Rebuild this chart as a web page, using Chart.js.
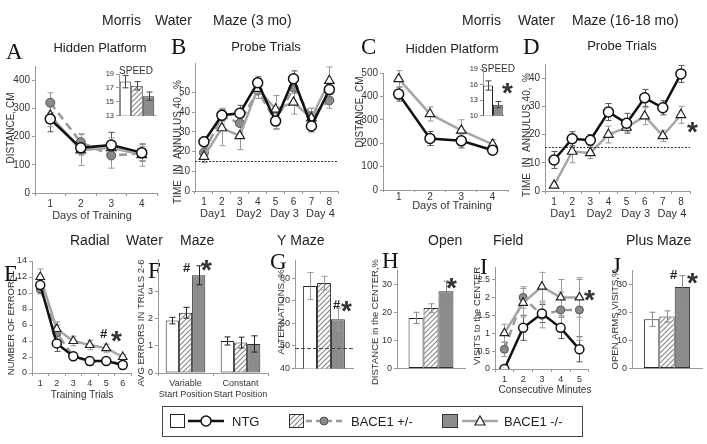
<!DOCTYPE html>
<html><head><meta charset="utf-8">
<script src="https://cdn.jsdelivr.net/npm/chart.js@4.4.1/dist/chart.umd.min.js"></script>
<style>
body{margin:0;background:#fff;width:707px;height:444px;position:relative;overflow:hidden;font-family:Arial,"Liberation Sans",sans-serif;}
canvas{position:absolute;}
</style></head><body>
<script>
// ---------------- DATA ----------------
const groupNames = ['NTG', 'BACE1 +/-', 'BACE1 -/-'];
// A: Morris water maze (3 mo), hidden platform distance (cm)
const aLabels = ['1', '2', '3', '4'];
const aNTG = [262, 160, 170, 143], aNTGErr = [45, 25, 45, 30];
const aHet = [320, 180, 133, 140], aHetErr = [35, 30, 45, 25];
const aKO  = [275, 152, 160, 135], aKOErr  = [40, 55, 35, 40];
const aSpeed = [17.9, 17.3, 15.8], aSpeedErr = [0.9, 0.6, 0.6];
// B: probe trials (3 mo), time in annulus 40 (%)
const bLabels = ['1', '2', '3', '4', '5', '6', '7', '8'];
const dayLabels = ['Day1', 'Day2', 'Day 3', 'Day 4'];
const bNTG = [25, 38.5, 39.5, 55, 35.5, 57, 33, 51.5], bNTGErr = [2.5, 3, 4, 3, 4, 4, 3, 4];
const bHet = [19.5, 38, 34.5, 51, 35.5, 52.5, 38, 46], bHetErr = [3, 4, 5, 4, 4, 3, 4, 4];
const bKO  = [17.5, 32, 28, 52, 41.5, 45, 37, 56], bKOErr = [3, 9, 7, 5, 7, 6, 5, 7];
const bChance = 15;
// C: Morris water maze (16-18 mo), hidden platform
const cNTG = [410, 220, 210, 170], cNTGErr = [30, 30, 30, 15];
const cKO  = [475, 325, 255, 195], cKOErr  = [35, 30, 45, 20];
const cSpeed = [15.8, 12.1], cSpeedErr = [0.9, 0.6];
// D: probe trials (16-18 mo)
const dNTG = [11, 18.5, 18, 28, 24, 33, 29.5, 41.5], dNTGErr = [3, 2.5, 2, 3, 3.5, 3, 2.5, 3];
const dKO  = [2, 14, 13.5, 20, 22.5, 26.5, 19.5, 27], dKOErr = [0, 4, 2, 3, 1.5, 3, 2, 3];
const dChance = 15.5;
// E: radial water maze errors
const eLabels = ['1', '2', '3', '4', '5', '6'];
const eNTG = [11, 3.7, 2.1, 1.5, 1.5, 1.0], eNTGErr = [1, 1, 0.4, 0.3, 0.3, 0.2];
const eHet = [10.5, 5, 2.1, 1.4, 1.5, 1.1], eHetErr = [0.6, 1, 0.5, 0.4, 0.3, 0.2];
const eKO  = [12, 5.5, 4, 3.5, 3.1, 2.0], eKOErr = [1, 0.9, 0.6, 0.6, 0.5, 0.3];
// F: avg errors in trials 2-6
const fLabels = [['Variable', 'Start Position'], ['Constant', 'Start Position']];
const fNTG = [1.93, 1.18], fNTGErr = [0.12, 0.15];
const fHet = [2.22, 1.12], fHetErr = [0.2, 0.2];
const fKO  = [3.6, 1.07],  fKOErr  = [0.35, 0.3];
// G: Y maze alternations (%)
const gVals = [76.5, 77.8, 61.8], gErr = [6, 3, 5];
const gChance = 49;
// H: open field distance in center (%)
const hVals = [18, 21.5, 27.5], hErr = [2, 1.5, 3.5];
// I: visits to the center
const iLabels = ['1', '2', '3', '4', '5'];
const iNTG = [0, 1.15, 1.55, 1.15, 0.55], iNTGErr = [0, 0.35, 0.25, 0.3, 0.35];
const iHet = [0.55, 2.0, 1.5, 1.65, 1.65], iHetErr = [0.2, 0.3, 0.35, 0.5, 0.85];
const iKO  = [1.0, 1.85, 2.3, 2.0, 2.0], iKOErr = [0.25, 0.4, 0.4, 0.5, 0.55];
// J: plus maze open arms visits (%)
const jVals = [17.5, 18.5, 29], jErr = [2.5, 2, 4];

// ---------------- STYLE / HELPERS ----------------
const FONT = 'Arial, "Liberation Sans", sans-serif';
const SERIF = '"Liberation Serif", "Times New Roman", serif';
const AX = '#999', TC = '#333';
const allCanvases = [];

function makeHatch() {
  const c = document.createElement('canvas'); c.width = 5; c.height = 5;
  const x = c.getContext('2d', { willReadFrequently: true });
  x.fillStyle = '#fff'; x.fillRect(0, 0, 5, 5);
  x.strokeStyle = '#8a8a8a'; x.lineWidth = 1.2;
  x.beginPath(); x.moveTo(-1, 6); x.lineTo(6, -1); x.moveTo(-1, 1); x.lineTo(1, -1); x.moveTo(4, 6); x.lineTo(6, 4); x.stroke();
  return x.createPattern(c, 'repeat');
}
const HATCH = makeHatch();

// text layer (bottom), drawn first
const TL = document.createElement('canvas'); TL.width = 707; TL.height = 444;
TL.style.left = '0px'; TL.style.top = '0px'; document.body.appendChild(TL);
const tx = TL.getContext('2d', { willReadFrequently: true });
allCanvases.push(TL);
function T(s, x, yc, size, o = {}) {
  tx.save();
  tx.font = (o.bold ? 'bold ' : '') + size + 'px ' + (o.serif ? SERIF : FONT);
  tx.fillStyle = o.color || '#222';
  tx.textBaseline = 'alphabetic';
  const off = (o.serif ? 0.3375 : 0.3565) * size;
  if (o.rot) { tx.translate(x, yc); tx.rotate(-Math.PI / 2); tx.textAlign = 'center'; tx.fillText(s, 0, off); }
  else { tx.textAlign = o.center ? 'center' : 'left'; tx.fillText(s, x, yc + off); }
  tx.restore();
}

const errorBars = {
  id: 'errorBars',
  beforeDatasetsDraw(chart, a, o) { if (o && o.behind) drawErr(chart); },
  afterDatasetsDraw(chart, a, o) { if (!(o && o.behind)) drawErr(chart); }
};
function drawErr(chart) {
  const ctx = chart.ctx;
  chart.data.datasets.forEach((ds, i) => {
    if (!ds.errors) return;
    const meta = chart.getDatasetMeta(i), ys = chart.scales[meta.yAxisID];
    meta.data.forEach((el, j) => {
      const v = ds.data[j], e = ds.errors[j];
      if (!e) return;
      const x = Math.round(el.x) + 0.5, y1 = ys.getPixelForValue(v + e), y2 = ys.getPixelForValue(v - e), cw = 3;
      ctx.save(); ctx.strokeStyle = ds.errColor || '#888'; ctx.lineWidth = 1;
      ctx.beginPath();
      ctx.moveTo(x, y1); ctx.lineTo(x, y2);
      ctx.moveTo(x - cw, y1); ctx.lineTo(x + cw, y1);
      ctx.moveTo(x - cw, y2); ctx.lineTo(x + cw, y2);
      ctx.stroke(); ctx.restore();
    });
  });
}
const refLine = {
  id: 'refLine',
  afterDatasetsDraw(chart, a, o) {
    if (!o || o.value == null) return;
    const ctx = chart.ctx, y = Math.round(chart.scales.y.getPixelForValue(o.value)) + 0.5, ca = chart.chartArea;
    ctx.save(); ctx.strokeStyle = o.color || '#333'; ctx.lineWidth = 1; ctx.setLineDash(o.dash || [2, 2]);
    ctx.beginPath(); ctx.moveTo(ca.left, y); ctx.lineTo(ca.right, y); ctx.stroke(); ctx.restore();
  }
};

function sNTG(data, err, r) { return { label: groupNames[0], data, errors: err, errColor: '#555', borderColor: '#111', borderWidth: 2.5, pointStyle: 'circle', pointRadius: r || 5, pointBackgroundColor: '#fff', pointBorderColor: '#111', pointBorderWidth: 1.5 }; }
function sHet(data, err, r) { return { label: groupNames[1], data, errors: err, errColor: '#999', borderColor: '#999', borderDash: [8, 5], borderWidth: 2.5, pointStyle: 'circle', pointRadius: r || 4.5, pointBackgroundColor: '#8a8a8a', pointBorderColor: '#555', pointBorderWidth: 1 }; }
function sKO(data, err, r) { return { label: groupNames[2], data, errors: err, errColor: '#999', borderColor: '#a6a6a6', borderWidth: 2.5, pointStyle: 'triangle', pointRadius: r || 5.5, pointBackgroundColor: '#fff', pointBorderColor: '#222', pointBorderWidth: 1.2 }; }

const barStyles = [
  { backgroundColor: '#fff', borderColor: '#222' },
  { backgroundColor: HATCH, borderColor: '#333' },
  { backgroundColor: '#8c8c8c', borderColor: '#333' }
];
function barSet(k, data, err, errColor) {
  return Object.assign({ label: groupNames[k], data, errors: err, errColor: errColor || '#777', borderWidth: 1, barPercentage: 1, borderSkipped: false }, barStyles[k]);
}

function yScale(min, max, step, fs) {
  return {
    type: 'linear', min, max,
    grid: { drawOnChartArea: false, tickLength: 3, color: AX }, border: { color: AX },
    ticks: { stepSize: step, autoSkip: false, font: { size: fs, family: FONT }, color: TC, padding: 2, callback: v => String(v) },
    afterBuildTicks: s => { s.ticks = s.ticks.filter(t => { const q = (t.value - min) / step; return Math.abs(q - Math.round(q)) < 1e-6; }); }
  };
}
function xCat(fs, show = true, tl = 3, pad = 2) {
  return {
    type: 'category', offset: true,
    grid: { display: show, drawTicks: show, drawOnChartArea: false, offset: true, tickLength: tl, color: AX }, border: { color: AX },
    ticks: { display: show, font: { size: fs, family: FONT }, color: TC, padding: pad, maxRotation: 0, autoSkip: false }
  };
}
function dayAxis() {
  return { type: 'category', labels: dayLabels, offset: true, position: 'bottom', grid: { display: false, drawTicks: false }, border: { display: false },
    ticks: { font: { size: 11, family: FONT }, color: TC, padding: 2, maxRotation: 0, autoSkip: false } };
}

function place(box, plot, cfg) {
  const [cx, cy, cw, ch] = box, [pl, pt, pr, pb] = plot;
  const cv = document.createElement('canvas'); cv.width = cw; cv.height = ch;
  cv.style.left = cx + 'px'; cv.style.top = cy + 'px'; document.body.appendChild(cv);
  const ctx = cv.getContext('2d', { willReadFrequently: true });
  const o = cfg.options;
  o.responsive = false; o.animation = false; o.devicePixelRatio = 1;
  o.layout = { padding: { left: 0, top: pt - cy, right: cx + cw - pr, bottom: 0 } };
  o.plugins = Object.assign({ legend: { display: false }, tooltip: { enabled: false } }, o.plugins || {});
  const yW = pl - cx, xH = cy + ch - pb;
  o.scales.y.afterFit = s => { s.width = yW; };
  if (o.scales.xd) { o.scales.x.afterFit = s => { s.height = 14; }; o.scales.xd.afterFit = s => { s.height = xH - 14; }; }
  else o.scales.x.afterFit = s => { s.height = xH; };
  cfg.plugins = [errorBars, refLine];
  allCanvases.push(cv);
  return new Chart(ctx, cfg);
}
function lineCfg(labels, datasets, y, x, extra) {
  return { type: 'line', data: { labels, datasets: datasets.map(d => Object.assign({ tension: 0, fill: false }, d)) },
    options: { scales: { x, y }, plugins: Object.assign({ errorBars: { behind: true } }, extra || {}) } };
}
function barCfg(labels, datasets, y, catPct, xshow, xfs, extra) {
  return { type: 'bar', data: { labels, datasets },
    options: { datasets: { bar: { categoryPercentage: catPct, barPercentage: 1 } },
      scales: { x: xCat(xfs || 9, xshow), y }, plugins: Object.assign({ errorBars: { behind: false } }, extra || {}) } };
}
function one(vals) { return vals.map(v => [v]); }

// ---------------- TEXT LAYER ----------------
T('Morris', 102, 20, 14); T('Water', 155, 20, 14); T('Maze (3 mo)', 213, 20, 14);
T('Morris', 462, 20, 14); T('Water', 518, 20, 14); T('Maze (16-18 mo)', 572, 20, 14);
T('Radial', 70, 240, 14); T('Water', 126, 240, 14); T('Maze', 180, 240, 14);
T('Y Maze', 277, 240, 14); T('Open', 428, 240, 14); T('Field', 493, 240, 14); T('Plus Maze', 626, 240, 14);
T('Hidden Platform', 100, 47, 13, { center: true }); T('Probe Trials', 266, 46, 13, { center: true });
T('Hidden Platform', 452, 48, 13, { center: true }); T('Probe Trials', 622, 45, 13, { center: true });
const LS = { serif: true, color: '#111' };
T('A', 6, 51, 23, LS); T('B', 171, 46, 23, LS); T('C', 361, 46, 23, LS); T('D', 523, 46, 23, LS);
T('E', 4, 273, 23, LS); T('F', 148, 270, 23, LS); T('G', 270, 261, 23, LS); T('H', 382, 260, 23, LS);
T('I', 480, 266, 23, LS); T('J', 612, 265, 23, LS);
const VR = { rot: true, color: '#333' };
T('DISTANCE, CM', 10, 128, 10, VR); T('TIME  IN  ANNULUS 40,  %', 177, 142, 10, VR);
T('DISTANCE, CM', 359, 112, 10, VR); T('TIME  IN  ANNULUS 40,  %', 526, 135, 10, VR);
T('NUMBER OF ERRORS', 11, 325, 9.5, VR); T('AVG ERRORS IN TRIALS 2-6', 141, 323, 9.5, VR);
T('ALTERNATIONS, %', 281, 312, 9.5, VR); T('DISTANCE in the CENTER,%', 375, 322, 9.5, VR);
T('VISITS to the CENTER', 477, 316, 9.5, VR); T('OPEN ARMS VISITS,%', 615, 319, 9.5, VR);
T('Days of Training', 92, 215, 11, { center: true, color: '#333' }); T('Days of Training', 452, 205, 11, { center: true, color: '#333' });
T('Training Trials', 82, 394, 10, { center: true, color: '#333' }); T('Consecutive Minutes', 545, 389, 10, { center: true, color: '#333' });
T('SPEED', 136, 70, 10, { center: true, color: '#333' }); T('SPEED', 498, 68, 10, { center: true, color: '#333' });
const star = (x, y) => T('*', x, y, 28, { bold: true, color: '#333' });
const hash = (x, y) => T('#', x, y, 13, { bold: true, color: '#222' });
star(502, 92); star(687, 131); star(111, 340); hash(100, 333);
hash(183, 267); star(201, 269); hash(333, 304); star(341, 310);
star(446, 287); star(584, 299); hash(670, 274); star(687, 282);
// legend
{
  const L = 162, Tp = 406, cy = 421;
  tx.save();
  tx.fillStyle = '#fff'; tx.fillRect(L, Tp, 420, 30);
  tx.strokeStyle = '#444'; tx.lineWidth = 1; tx.strokeRect(L + 0.5, Tp + 0.5, 420, 30);
  tx.fillStyle = '#fff'; tx.fillRect(L + 8, Tp + 8, 14, 13); tx.strokeStyle = '#222'; tx.strokeRect(L + 8.5, Tp + 8.5, 14, 13);
  tx.strokeStyle = '#111'; tx.lineWidth = 2.5; tx.beginPath(); tx.moveTo(L + 26, cy); tx.lineTo(L + 62, cy); tx.stroke();
  tx.fillStyle = '#fff'; tx.lineWidth = 1.5; tx.beginPath(); tx.arc(L + 44, cy, 5, 0, Math.PI * 2); tx.fill(); tx.stroke();
  tx.fillStyle = HATCH; tx.fillRect(L + 127, Tp + 8, 14, 13); tx.strokeStyle = '#333'; tx.lineWidth = 1; tx.strokeRect(L + 127.5, Tp + 8.5, 14, 13);
  tx.strokeStyle = '#999'; tx.lineWidth = 2.5; tx.setLineDash([6, 4]); tx.beginPath(); tx.moveTo(L + 144, cy); tx.lineTo(L + 182, cy); tx.stroke(); tx.setLineDash([]);
  tx.fillStyle = '#8a8a8a'; tx.strokeStyle = '#555'; tx.lineWidth = 1; tx.beginPath(); tx.arc(L + 162, cy, 4, 0, Math.PI * 2); tx.fill(); tx.stroke();
  tx.fillStyle = '#8c8c8c'; tx.fillRect(L + 280, Tp + 8, 15, 13); tx.strokeStyle = '#333'; tx.strokeRect(L + 280.5, Tp + 8.5, 15, 13);
  tx.strokeStyle = '#a6a6a6'; tx.lineWidth = 2.5; tx.beginPath(); tx.moveTo(L + 300, cy); tx.lineTo(L + 336, cy); tx.stroke();
  tx.fillStyle = '#fff'; tx.strokeStyle = '#222'; tx.lineWidth = 1.2; tx.beginPath(); tx.moveTo(L + 318, cy - 5); tx.lineTo(L + 323, cy + 4); tx.lineTo(L + 313, cy + 4); tx.closePath(); tx.fill(); tx.stroke();
  tx.restore();
  T(groupNames[0], L + 70, cy, 13); T(groupNames[1], L + 189, cy, 13); T(groupNames[2], L + 342, cy, 13);
}

// ---------------- CHARTS ----------------
place([0, 56, 165, 166], [35, 66, 157, 193],
  lineCfg(aLabels, [sNTG(aNTG, aNTGErr), sKO(aKO, aKOErr), sHet(aHet, aHetErr)], yScale(0, 450, 100, 10), xCat(10)));
{
  const v = one(aSpeed), e = one(aSpeedErr);
  place([100, 64, 58, 58], [119, 74, 155, 118],
    barCfg([''], [0, 1, 2].map(k => barSet(k, v[k], e[k], '#444')), yScale(13, 19, 2, 7.5), 0.96, false));
}
{
  const cfg = lineCfg(bLabels, [sNTG(bNTG, bNTGErr), sKO(bKO, bKOErr), sHet(bHet, bHetErr)], yScale(0, 65, 10, 10), xCat(10), { refLine: { value: bChance, dash: [2, 1.5] } });
  cfg.options.scales.xd = dayAxis();
  place([170, 55, 175, 168], [195, 63, 340, 191], cfg);
}
place([350, 56, 165, 154], [383, 73, 509, 190],
  lineCfg(aLabels, [sNTG(cNTG, cNTGErr), sKO(cKO, cKOErr)], yScale(0, 500, 100, 10), xCat(10, true, 2, -1)));
{
  const v = one(cSpeed), e = one(cSpeedErr);
  place([466, 60, 40, 62], [483, 69, 503, 118],
    barCfg([''], [barSet(0, v[0], e[0], '#444'), barSet(2, v[1], e[1], '#444')], yScale(10, 19, 3, 7.5), 0.98, false));
}
{
  const cfg = lineCfg(bLabels, [sNTG(dNTG, dNTGErr), sKO(dKO, dKOErr)], yScale(0, 45, 10, 10), xCat(10), { refLine: { value: dChance, dash: [2, 1.5] } });
  cfg.options.scales.xd = dayAxis();
  place([520, 55, 180, 168], [545, 64, 690, 191], cfg);
}
place([0, 250, 140, 140], [32, 261, 131, 373],
  lineCfg(eLabels, [sNTG(eNTG, eNTGErr, 4.5), sKO(eKO, eKOErr, 5), sHet(eHet, eHetErr, 4)], yScale(0, 14, 2, 9), xCat(9)));
place([130, 250, 145, 152], [158, 259, 268, 373],
  barCfg(fLabels, [barSet(0, fNTG, fNTGErr, '#222'), barSet(1, fHet, fHetErr, '#222'), barSet(2, fKO, fKOErr, '#222')], yScale(0, 4.2, 1, 9), 0.72, true, 9));
{
  const v = one(gVals), e = one(gErr);
  place([270, 250, 90, 126], [295, 260, 353, 372],
    barCfg([''], [0, 1, 2].map(k => barSet(k, v[k], e[k], '#999')), yScale(40, 88, 10, 9), 0.72, false, 9, { refLine: { value: gChance, dash: [4, 2], color: '#444' } }));
}
{
  const v = one(hVals), e = one(hErr);
  place([380, 258, 90, 118], [397, 270, 465, 371],
    barCfg([''], [0, 1, 2].map(k => barSet(k, v[k], e[k], '#888')), yScale(0, 35, 10, 9), 0.66, false));
}
place([470, 258, 125, 124], [495, 267, 590, 369],
  lineCfg(iLabels, [sNTG(iNTG, iNTGErr, 4.5), sKO(iKO, iKOErr, 5), sHet(iHet, iHetErr, 4)], yScale(0, 2.85, 0.5, 9), xCat(9)));
{
  const v = one(jVals), e = one(jErr);
  place([610, 258, 97, 118], [632, 270, 702, 370],
    barCfg([''], [0, 1, 2].map(k => barSet(k, v[k], e[k], '#888')), yScale(0, 35, 10, 9), 0.66, false));
}
// read back each canvas once so every one is settled in software mode
allCanvases.forEach(c => { c.getContext('2d', { willReadFrequently: true }).getImageData(0, 0, 1, 1); });
</script>
</body></html>
